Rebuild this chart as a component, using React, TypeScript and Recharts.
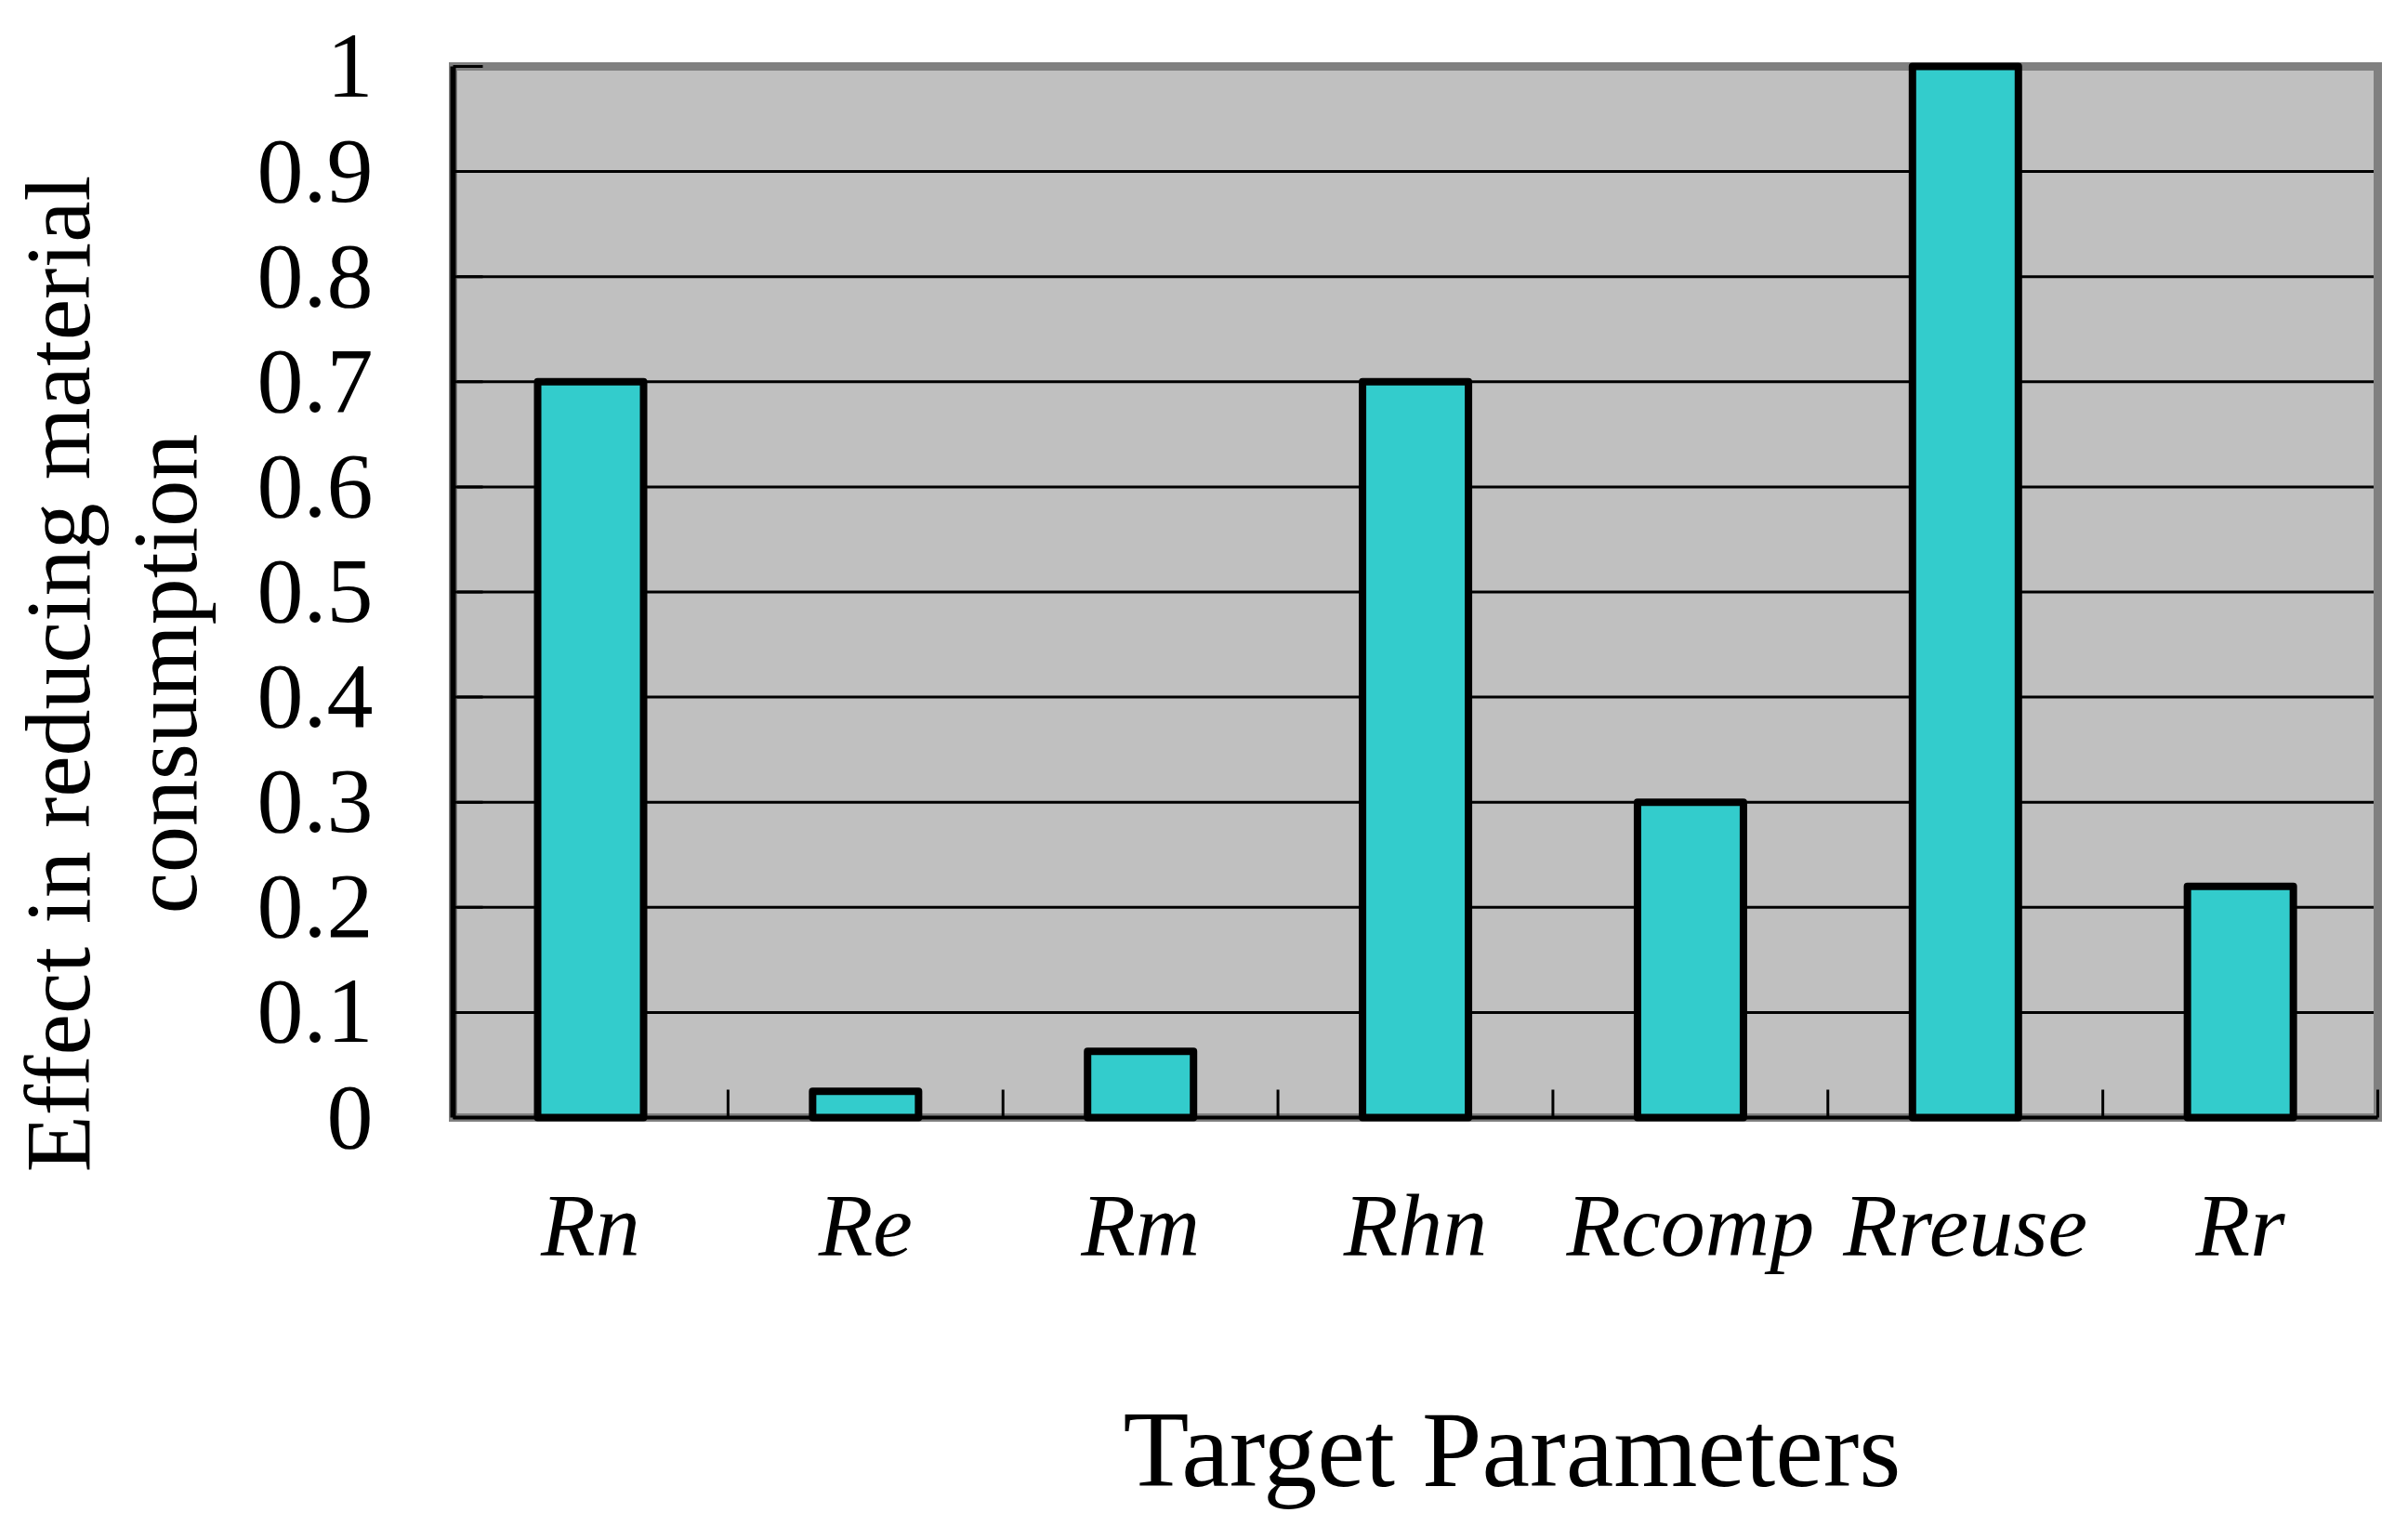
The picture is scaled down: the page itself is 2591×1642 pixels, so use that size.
import React from 'react';
import { BarChart, Bar, XAxis, YAxis, CartesianGrid, ReferenceArea } from 'recharts';

const categories = ['Rn', 'Re', 'Rm', 'Rhn', 'Rcomp', 'Rreuse', 'Rr'];
const effectValues = [0.7, 0.025, 0.063, 0.7, 0.3, 1.0, 0.22];
const yTicks = [0, 0.1, 0.2, 0.3, 0.4, 0.5, 0.6, 0.7, 0.8, 0.9, 1];
const yTickLabels = ['0', '0.1', '0.2', '0.3', '0.4', '0.5', '0.6', '0.7', '0.8', '0.9', '1'];
const yAxisTitleLines = ['Effect in reducing material', 'consumption'];
const xAxisTitle = 'Target Parameters';

const data = categories.map((name, i) => ({ name, value: effectValues[i] }));

const FONT = '"Liberation Serif", "Times New Roman", serif';
const CHART_W = 2575;
const CHART_H = 1630;
const Y_AXIS_W = 479.5;
const X_AXIS_H = 435.5;
const MARGIN = { top: 63.5, right: 24.5, left: 0, bottom: 0 };
const X_TICK_MARGIN = 148.5;
const Y_TICK_MARGIN = 86;

const XTick = (props: any) => {
  const { x, y, payload } = props;
  const half = payload && typeof payload.offset === 'number' && payload.offset > 0 ? payload.offset : 148;
  const base = y - X_TICK_MARGIN;
  return (
    <g>
      <line x1={x + half} x2={x + half} y1={base} y2={base - 30} stroke="#000" strokeWidth={3} />
      <text x={x} y={y} textAnchor="middle" fontSize={96} fontStyle="italic" fontFamily={FONT} fill="#000">
        {payload.value}
      </text>
    </g>
  );
};

const YTick = (props: any) => {
  const { x, y, payload } = props;
  const left = x + Y_TICK_MARGIN;
  const idx = yTicks.indexOf(payload.value);
  const label = idx >= 0 ? yTickLabels[idx] : String(payload.value);
  return (
    <g>
      <line x1={left} x2={left + 32} y1={y} y2={y} stroke="#000" strokeWidth={3} />
      <text x={x} y={y} dy={32} textAnchor="end" fontSize={100} fontFamily={FONT} fill="#000">
        {label}
      </text>
    </g>
  );
};

const YTitle = () => {
  const cy = 717;
  return (
    <g>
      <text x={88} y={cy} transform={`rotate(-90, 88, ${cy})`} textAnchor="middle" fontSize={100} fontFamily={FONT} fill="#000">
        {yAxisTitleLines[0]}
      </text>
      <text x={203} y={cy} transform={`rotate(-90, 203, ${cy})`} textAnchor="middle" fontSize={100} fontFamily={FONT} fill="#000">
        {yAxisTitleLines[1]}
      </text>
    </g>
  );
};

const XTitle = () => (
  <text x={1619} y={1591} textAnchor="middle" fontSize={116} fontFamily={FONT} fill="#000">
    {xAxisTitle}
  </text>
);

export default function App() {
  return (
    <div style={{ width: CHART_W, height: CHART_H, fontFamily: FONT, background: '#fff' }}>
      <BarChart width={CHART_W} height={CHART_H} data={data} margin={MARGIN} barSize={114}>
        <CartesianGrid vertical={false} stroke="#000" strokeWidth={3} fill="#C0C0C0" fillOpacity={1} />
        <ReferenceArea y1={0} y2={1} fill="none" stroke="#808080" strokeWidth={9} ifOverflow="visible" />
        <Bar
          dataKey="value"
          fill="#33CCCC"
          stroke="#000"
          strokeWidth={8}
          strokeLinejoin="round"
          isAnimationActive={false}
        />
        <XAxis
          dataKey="name"
          height={X_AXIS_H}
          interval={0}
          tickSize={0}
          tickMargin={X_TICK_MARGIN}
          tickLine={false}
          axisLine={{ stroke: '#000', strokeWidth: 4 }}
          tick={<XTick />}
          label={<XTitle />}
        />
        <YAxis
          type="number"
          domain={[0, 1]}
          ticks={yTicks}
          width={Y_AXIS_W}
          tickSize={0}
          tickMargin={Y_TICK_MARGIN}
          tickLine={false}
          axisLine={{ stroke: '#000', strokeWidth: 6 }}
          tick={<YTick />}
          interval={0}
          label={<YTitle />}
        />
      </BarChart>
    </div>
  );
}
